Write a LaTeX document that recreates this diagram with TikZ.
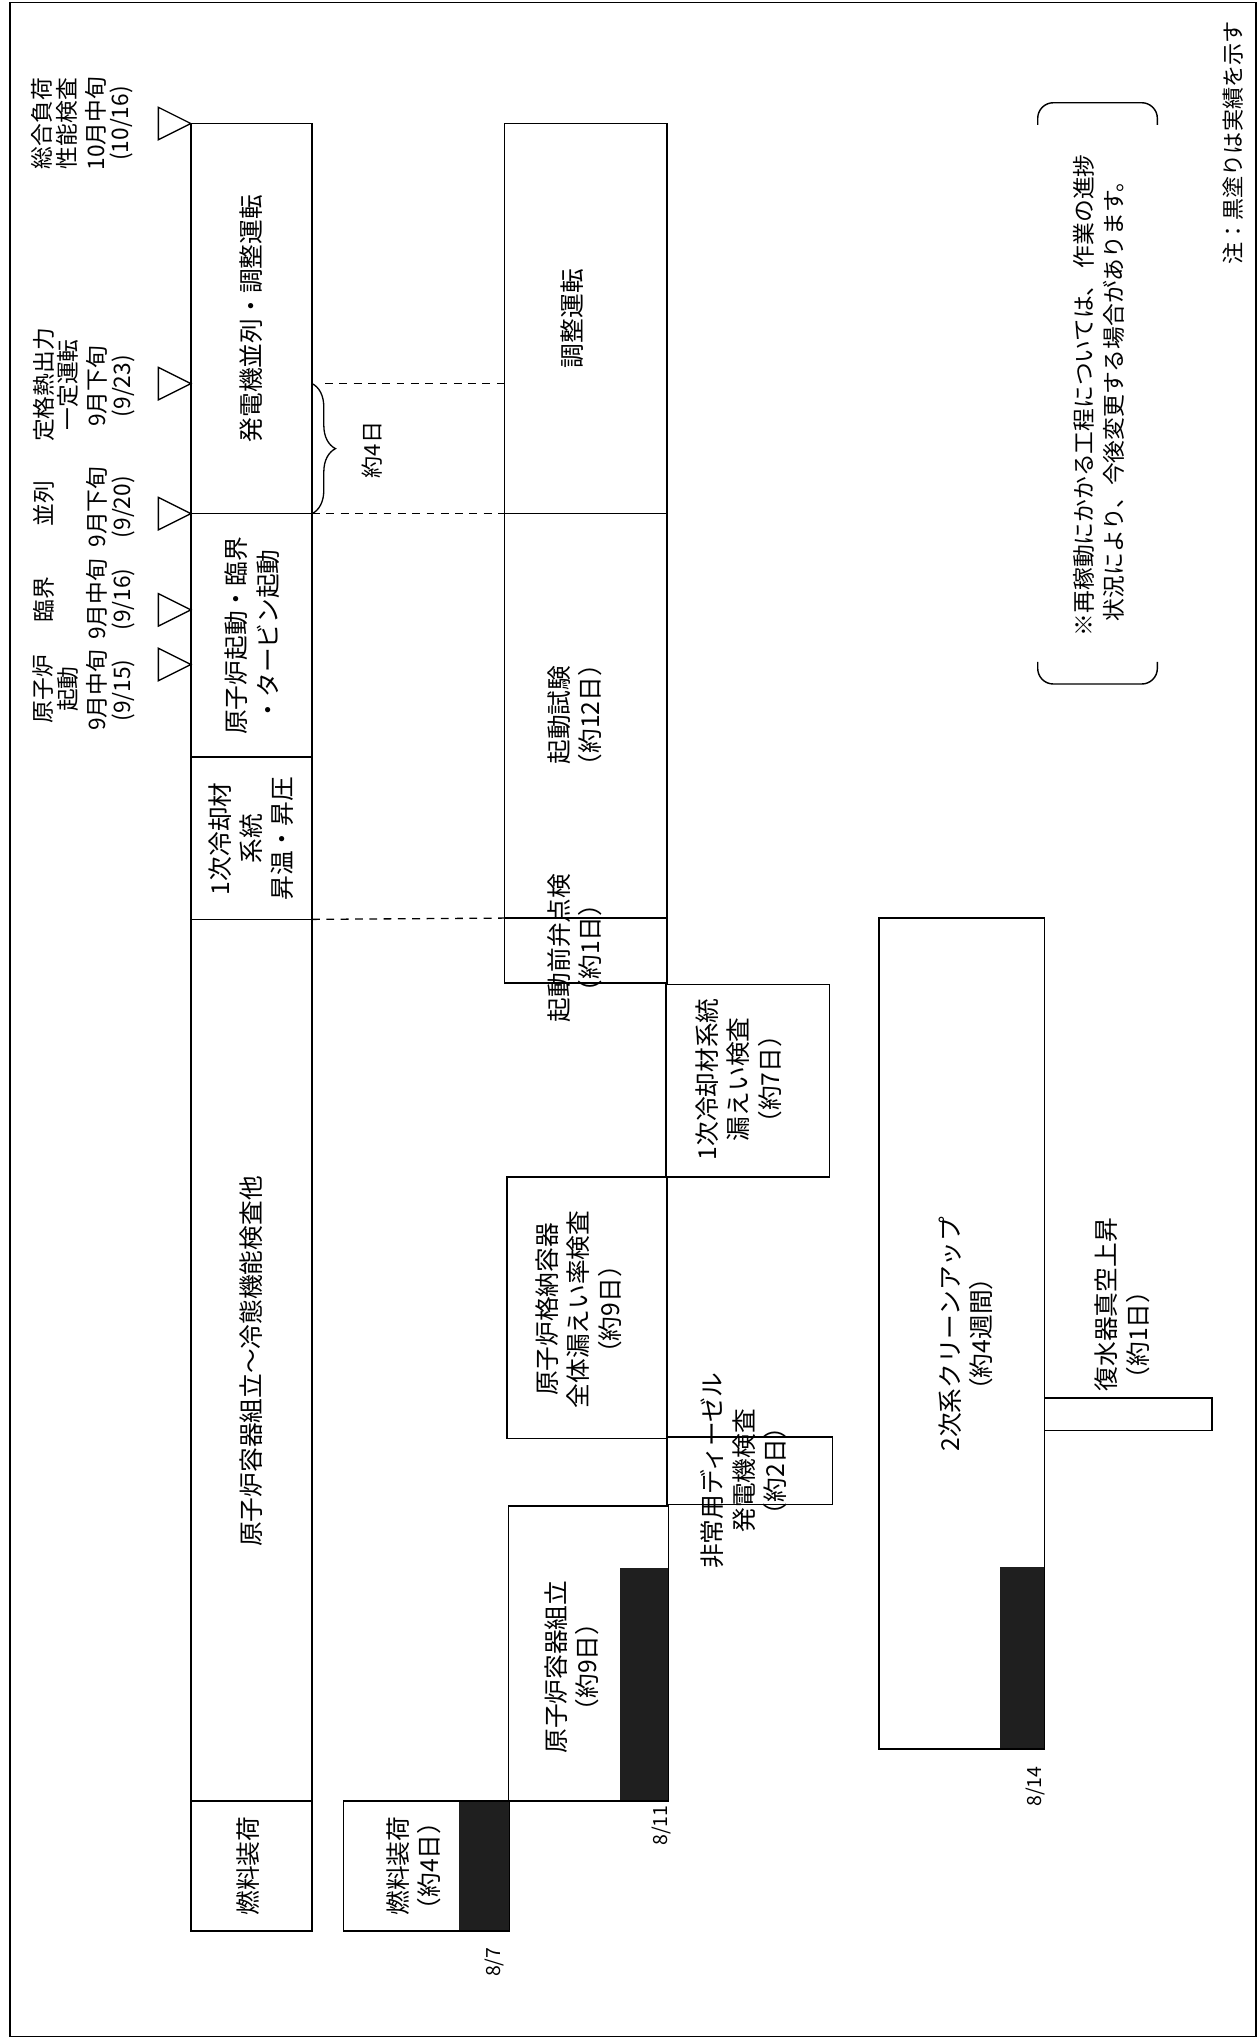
\documentclass[tikz,border=0pt]{standalone}
\usepackage{fontspec}
\setmainfont{Noto Sans CJK JP}
\usetikzlibrary{shapes.geometric,decorations.pathreplacing}
\newcommand\fsz[2]{\fontsize{#1}{#2}\selectfont}
\tikzset{
  box/.style={draw, line width=1.1pt, inner sep=0pt, outer sep=0pt, anchor=north west},
  done/.style={fill=black!88, draw=none, inner sep=0pt, outer sep=0pt, anchor=north west},
  lbl/.style={rotate=90, align=center, inner sep=0pt, font=\fsz{19}{24}},
  ms/.style={rotate=90, align=center, inner sep=0pt, font=\fsz{17.5}{19}},
  dt/.style={rotate=90, inner sep=0pt, font=\fsz{15}{16}},
  tri/.style={draw, line width=1pt, isosceles triangle, isosceles triangle stretches,
              minimum width=25pt, minimum height=25pt, inner sep=0pt, shape border rotate=0},
  dline/.style={line width=1pt, dash pattern=on 6pt off 5pt},
}
\begin{document}
\begin{tikzpicture}[x=1pt,y=-1pt]
\useasboundingbox (0,0) rectangle (968,1568);
\fill[white] (0,0) rectangle (968,1568);
\draw[line width=1.2pt] (7.7,1.8) rectangle (966,1566);

% ---- milestones ----
\node[tri] (t1) at (129.5,95) {};
\node[tri] (t2) at (129.5,295) {};
\node[tri] (t3) at (129.5,395) {};
\node[tri] (t4) at (129.5,469) {};
\node[tri] (t5) at (129.5,511) {};
\node[ms] (n1) at (42,95) {総合負荷\\性能検査};
\node[ms] (d1) at (84,95) {10月中旬\\(10/16)};
\node[ms] (n2) at (43,296) {定格熱出力\\一定運転};
\node[ms] (d2) at (85,297) {9月下旬\\(9/23)};
\node[ms] (n3) at (34,387) {並列};
\node[ms] (d3) at (85,390) {9月下旬\\(9/20)};
\node[ms] (n4) at (34,461) {臨界};
\node[ms] (d4) at (85,461) {9月中旬\\(9/16)};
\node[ms] (n5) at (43,530) {原子炉\\起動};
\node[ms] (d5) at (85,531) {9月中旬\\(9/15)};

% ---- lane 1 ----
\node[box, minimum width=93pt, minimum height=300pt] (gen) at (147,95) {};
\node[box, minimum width=93pt, minimum height=187pt] (rs) at (147,395) {};
\node[box, minimum width=93pt, minimum height=125pt] (pc) at (147,582) {};
\node[box, minimum width=93pt, minimum height=678pt] (asm) at (147,707) {};
\node[box, minimum width=93pt, minimum height=100pt] (fla) at (147,1385) {};
\node[lbl] (gen-t) at (193,245) {発電機並列・調整運転};
\node[lbl] (rs-t) at (194,489) {原子炉起動・臨界\\・タービン起動};
\node[lbl] (pc-t) at (193,645) {1次冷却材\\系統\\昇温・昇圧};
\node[lbl] (asm-t) at (193,1047) {原子炉容器組立～冷態機能検査他};
\node[lbl] (fla-t) at (191,1435) {燃料装荷};

% ---- lane 2 ----
\node[box, minimum width=125pt, minimum height=300pt] (adj) at (388,95) {};
\node[box, minimum width=125pt, minimum height=311pt] (st) at (388,395) {};
\node[box, minimum width=125pt, minimum height=50pt] (vc) at (388,706) {};
\node[box, minimum width=123pt, minimum height=201pt] (cv) at (390,905) {};
\node[done, minimum width=37pt, minimum height=179pt] (rv-d) at (477,1206) {};
\node[box, minimum width=123pt, minimum height=227pt] (rv) at (391,1158) {};
\node[done, minimum width=39pt, minimum height=100pt] (flb-d) at (353,1385) {};
\node[box, minimum width=128pt, minimum height=100pt] (flb) at (264,1385) {};
\node[lbl] (adj-t) at (440,245) {調整運転};
\node[lbl] (st-t) at (442,550) {起動試験\\（約12日）};
\node[lbl] (vc-t) at (442,729) {起動前弁点検\\（約1日）};
\node[lbl] (cv-t) at (445,1007) {原子炉格納容器\\全体漏えい率検査\\（約9日）};
\node[lbl] (rv-t) at (440,1282) {原子炉容器組立\\（約9日）};
\node[lbl] (flb-t) at (318,1435) {燃料装荷\\（約4日）};

% ---- lane 3 ----
\node[box, minimum width=126pt, minimum height=148pt] (lk) at (512,757) {};
\node[box, minimum width=127pt, minimum height=52pt] (dg) at (513,1105) {};
\node[lbl] (lk-t) at (568,830) {1次冷却材系統\\漏えい検査\\（約7日）};
\node[lbl] (dg-t) at (572,1131) {非常用ディーゼル\\発電機検査\\（約2日）};

% ---- lane 4 ----
\node[done, minimum width=34pt, minimum height=140pt] (cu-d) at (769,1205) {};
\node[box, minimum width=127pt, minimum height=639pt] (cu) at (676,706) {};
\node[box, minimum width=129pt, minimum height=25pt] (cd) at (803,1075) {};
\node[lbl] (cu-t) at (743,1026) {2次系クリーンアップ\\（約4週間）};
\node[lbl, align=left, anchor=west] (cd-t) at (863,1070) {復水器真空上昇\\（約1日）};

% ---- dashed guides and brace ----
\draw[dline] ([xshift=10pt]gen.east |- t2) -- (adj.west |- t2);
\draw[dline] (gen.south east) -- (st.north west);
\draw[dline] (pc.south east) -- (vc.north west);
\draw[line width=1pt, decorate, decoration={brace, amplitude=18pt, aspect=0.5}]
  (gen.east |- t2) -- (gen.south east);
\node[font=\fsz{17}{20}, rotate=90, inner sep=0pt] (days4) at (286,346) {約4日};

% ---- dates ----
\node[dt] (a7) at (380,1509) {8/7};
\node[dt] (a11) at (509,1404) {8/11};
\node[dt] (a14) at (796,1374) {8/14};

% ---- note ----
\draw[line width=1.1pt, rounded corners=12pt] (798,96) -- (798,79) -- (890,79) -- (890,96);
\draw[line width=1.1pt, rounded corners=12pt] (798,509) -- (798,526) -- (890,526) -- (890,509);
\node[rotate=90, align=center, inner sep=0pt, font=\fsz{17.5}{23}] (note) at (845,304)
  {※再稼動にかかる工程については、 作業の進捗\\状況により、今後変更する場合があります。};
\node[rotate=90, inner sep=0pt, font=\fsz{17}{20}] (legend) at (948,110) {注：黒塗りは実績を示す};
\end{tikzpicture}
\end{document}
